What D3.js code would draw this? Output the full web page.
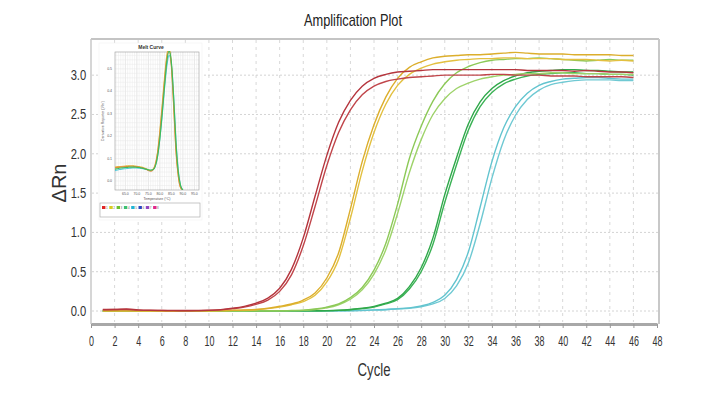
<!DOCTYPE html>
<html><head><meta charset="utf-8">
<script src="https://cdn.jsdelivr.net/npm/d3@7"></script>
<style>
html,body{margin:0;padding:0;background:#fff;}
text{font-family:"Liberation Sans",Arial,sans-serif;}
</style></head>
<body><svg id="c" width="707" height="397"></svg>
<script>
// ---------- DATA ----------
const cycles = [1,2,3,4,5,6,7,8,9,10,11,12,13,14,15,16,17,18,19,20,21,22,23,24,25,26,27,28,29,30,31,32,33,34,35,36,37,38,39,40,41,42,43,44,45,46];
const red1 = [0.02,0.02,0.025,0.015,0.01,0.008,0.006,0.006,0.007,0.01,0.018,0.035,0.06,0.10,0.165,0.29,0.53,0.93,1.46,1.98,2.40,2.68,2.86,2.96,3.01,3.04,3.05,3.06,3.07,3.07,3.07,3.07,3.07,3.07,3.07,3.07,3.06,3.06,3.06,3.06,3.05,3.06,3.05,3.04,3.04,3.03];
const red2 = [0.015,0.02,0.02,0.012,0.008,0.006,0.005,0.004,0.005,0.008,0.015,0.03,0.05,0.085,0.14,0.25,0.46,0.83,1.33,1.85,2.27,2.56,2.75,2.86,2.92,2.95,2.97,2.98,2.99,3.00,3.00,3.00,3.00,3.01,3.01,3.00,3.00,3.00,2.99,2.99,2.99,2.98,2.98,2.98,2.98,2.97];
const yellow1 = [0.003,0.003,0.002,0.002,0.002,0.001,0.001,0.002,0.003,0.004,0.006,0.009,0.013,0.02,0.035,0.06,0.09,0.14,0.23,0.42,0.74,1.30,1.90,2.37,2.72,2.96,3.10,3.17,3.22,3.24,3.25,3.26,3.26,3.27,3.28,3.29,3.28,3.27,3.27,3.27,3.26,3.26,3.26,3.26,3.25,3.25];
const yellow2 = [0.002,0.002,0.002,0.001,0.001,0.001,0.001,0.002,0.002,0.003,0.005,0.008,0.011,0.017,0.03,0.05,0.08,0.12,0.20,0.37,0.66,1.18,1.78,2.27,2.63,2.87,3.01,3.09,3.14,3.17,3.19,3.20,3.21,3.21,3.22,3.22,3.21,3.21,3.21,3.20,3.20,3.20,3.19,3.18,3.19,3.18];
const lgreen1 = [0.001,0.001,0.001,0.001,0.001,0.001,0.001,0.001,0.001,0.001,0.001,0.001,0.002,0.002,0.003,0.004,0.006,0.01,0.025,0.05,0.09,0.17,0.30,0.52,0.86,1.36,1.94,2.35,2.67,2.89,3.03,3.11,3.16,3.19,3.20,3.21,3.21,3.22,3.21,3.20,3.19,3.18,3.19,3.20,3.19,3.19];
const lgreen2 = [0.001,0.001,0.001,0.001,0.001,0.001,0.001,0.001,0.001,0.001,0.001,0.001,0.001,0.002,0.002,0.003,0.005,0.008,0.02,0.04,0.08,0.15,0.27,0.47,0.78,1.24,1.76,2.18,2.50,2.70,2.83,2.90,2.95,2.98,3.00,3.01,3.02,3.02,3.03,3.03,3.02,3.02,3.02,3.01,3.01,3.01];
const green1 = [0.001,0.001,0.001,0.001,0.001,0.001,0.001,0.001,0.001,0.001,0.001,0.001,0.001,0.001,0.002,0.002,0.002,0.003,0.004,0.005,0.01,0.02,0.035,0.06,0.10,0.16,0.31,0.55,0.93,1.48,1.95,2.38,2.66,2.83,2.93,2.99,3.03,3.05,3.06,3.07,3.07,3.06,3.06,3.05,3.04,3.04];
const green2 = [0.001,0.001,0.001,0.001,0.001,0.001,0.001,0.001,0.001,0.001,0.001,0.001,0.001,0.001,0.001,0.002,0.002,0.003,0.003,0.004,0.008,0.017,0.03,0.05,0.09,0.145,0.28,0.50,0.85,1.38,1.86,2.30,2.60,2.78,2.89,2.95,2.99,3.01,3.02,3.03,3.03,3.02,3.02,3.01,3.01,3.00];
const cyan1 = [0.001,0.001,0.001,0.001,0.001,0.001,0.001,0.001,0.001,0.001,0.001,0.001,0.001,0.001,0.001,0.002,0.002,0.002,0.003,0.003,0.004,0.005,0.008,0.015,0.02,0.03,0.04,0.065,0.11,0.20,0.40,0.75,1.32,1.90,2.33,2.60,2.77,2.87,2.92,2.95,2.96,2.97,2.97,2.96,2.95,2.95];
const cyan2 = [0.001,0.001,0.001,0.001,0.001,0.001,0.001,0.001,0.001,0.001,0.001,0.001,0.001,0.001,0.001,0.001,0.002,0.002,0.002,0.003,0.003,0.004,0.007,0.012,0.017,0.025,0.035,0.055,0.09,0.16,0.32,0.61,1.11,1.69,2.17,2.49,2.69,2.81,2.88,2.91,2.93,2.94,2.94,2.94,2.93,2.93];

const xTicks = [0,2,4,6,8,10,12,14,16,18,20,22,24,26,28,30,32,34,36,38,40,42,44,46,48];
const yTicks = [0.0,0.5,1.0,1.5,2.0,2.5,3.0];

// melt curve inset
const meltTemps = [60,61,62,63,64,65,66,67,68,69,70,71,72,73,74,75,76,77,78,79,80,81,82,83,84,85,86,87,88,89,90];
const meltOrange = [0.058,0.060,0.061,0.062,0.063,0.064,0.065,0.066,0.066,0.065,0.064,0.062,0.060,0.057,0.053,0.047,0.044,0.050,0.072,0.125,0.215,0.325,0.445,0.545,0.585,0.51,0.33,0.13,0.02,-0.03,-0.04];
const meltYellow = [0.062,0.063,0.064,0.065,0.066,0.067,0.068,0.068,0.068,0.067,0.066,0.064,0.062,0.059,0.055,0.050,0.047,0.052,0.075,0.13,0.225,0.34,0.46,0.56,0.595,0.52,0.34,0.14,0.025,-0.03,-0.04];
const meltGreen = [0.052,0.054,0.056,0.058,0.059,0.060,0.061,0.062,0.062,0.062,0.061,0.060,0.058,0.056,0.053,0.050,0.048,0.050,0.065,0.11,0.19,0.30,0.42,0.53,0.58,0.53,0.37,0.17,0.04,-0.02,-0.04];
const meltCyan = [0.045,0.048,0.050,0.052,0.054,0.055,0.056,0.057,0.058,0.058,0.058,0.057,0.056,0.054,0.052,0.050,0.049,0.052,0.066,0.11,0.19,0.29,0.41,0.51,0.56,0.52,0.38,0.18,0.05,-0.02,-0.04];
const meltXTicks = [65,70,75,80,85,90,95];
const meltYTicks = [0.0,0.1,0.2,0.3,0.4,0.5];
const legendColors = ["#e02424","#d8cc20","#6cc030","#3cc070","#20b4d4","#2a48c0","#9448c0","#e0288c"];
const legendLabels = ["1","2","3","4","5","6","7","8"];

// ---------- DRAW ----------
const svg = d3.select("#c");
svg.append("rect").attr("width",707).attr("height",397).attr("fill","#fff");

const x = d3.scaleLinear().domain([0,48]).range([91,657]);
const y = d3.scaleLinear().domain([-0.165,3.46]).range([324,39]);

// grid
const g = svg.append("g");
g.selectAll("line.vg").data(xTicks.filter(d=>d>0&&d<48)).join("line")
 .attr("x1",d=>x(d)).attr("x2",d=>x(d)).attr("y1",40).attr("y2",322)
 .attr("stroke","#d8d8d8").attr("stroke-width",1).attr("stroke-dasharray","3,4");
g.selectAll("line.hg").data(yTicks).join("line")
 .attr("x1",92).attr("x2",658).attr("y1",d=>y(d)).attr("y2",d=>y(d))
 .attr("stroke","#d4d4d4").attr("stroke-width",1).attr("stroke-dasharray","2,2");

// frame
svg.append("line").attr("x1",91).attr("x2",659).attr("y1",39).attr("y2",39).attr("stroke","#c4c4c4").attr("stroke-width",2);
svg.append("line").attr("x1",91).attr("x2",91).attr("y1",39).attr("y2",324).attr("stroke","#c8c8c8").attr("stroke-width",1.5);
svg.append("line").attr("x1",659).attr("x2",659).attr("y1",39).attr("y2",324).attr("stroke","#c8c8c8").attr("stroke-width",2);

// x axis
const xAxis = d3.axisBottom(x).tickValues(xTicks).tickSize(4).tickSizeOuter(0).tickFormat(d3.format("d"));
const xa = svg.append("g").attr("transform","translate(0,324)").call(xAxis);
xa.select(".domain").attr("stroke","#a8a8a8").attr("stroke-width",3);
xa.selectAll(".tick line").attr("stroke","#999");
xa.selectAll(".tick text").attr("font-size",14).attr("fill","#333").attr("dy","1.05em")
  .attr("transform","scale(0.64,1)").style("font-family",'"Liberation Sans",Arial,sans-serif');

// y axis labels
const yAxis = d3.axisLeft(y).tickValues(yTicks).tickSize(0).tickFormat(d3.format(".1f"));
const ya = svg.append("g").attr("transform","translate(91,0)").call(yAxis);
ya.select(".domain").remove();
ya.selectAll(".tick text").attr("font-size",14).attr("fill","#333").attr("x",-6)
  .attr("transform","scale(0.8,1)").style("font-family",'"Liberation Sans",Arial,sans-serif');

// curves
const line = d3.line().x((d,i)=>x(cycles[i])).y(d=>y(d)).curve(d3.curveMonotoneX);
const series = [
  {v:cyan2,c:"#6fc9d3"},{v:cyan1,c:"#62c4cf"},
  {v:green2,c:"#3bb255"},{v:green1,c:"#2fa84a"},
  {v:lgreen2,c:"#9ed36a"},{v:lgreen1,c:"#8cc957"},
  {v:yellow2,c:"#e3c040"},{v:yellow1,c:"#dcae2c"},
  {v:red2,c:"#c0454a"},{v:red1,c:"#b5353d"}
];
svg.append("g").selectAll("path").data(series).join("path")
  .attr("d",d=>line(d.v)).attr("fill","none").attr("stroke",d=>d.c).attr("stroke-width",1.4);

// titles
svg.append("text").attr("x",353).attr("y",26).attr("text-anchor","middle").attr("font-size",17).attr("fill","#222")
  .attr("textLength",98).attr("lengthAdjust","spacingAndGlyphs").text("Amplification Plot");
svg.append("text").attr("x",374).attr("y",376).attr("text-anchor","middle").attr("font-size",17.5).attr("fill","#333")
  .attr("textLength",33).attr("lengthAdjust","spacingAndGlyphs").text("Cycle");
svg.append("text").attr("transform","translate(66,183) rotate(-90)").attr("text-anchor","middle").attr("font-size",20)
  .attr("fill","#333").attr("textLength",39).attr("lengthAdjust","spacingAndGlyphs").text("ΔRn");

// ---------- INSET ----------
const ins = svg.append("g");
ins.append("rect").attr("x",99).attr("y",43).attr("width",103).attr("height",177).attr("fill","#fff").attr("stroke","#eee").attr("stroke-width",0.5);
const xm = d3.scaleLinear().domain([60.5,97]).range([115,199]);
const ym = d3.scaleLinear().domain([-0.04,0.575]).range([190,52]);
const fineX = meltTemps.concat([91,92,93,94,95,96]);
ins.selectAll("line.fx").data(fineX.filter(t=>t>60.5)).join("line")
  .attr("x1",d=>xm(d)).attr("x2",d=>xm(d)).attr("y1",52).attr("y2",190)
  .attr("stroke",d=>d%5===0?"#cfcfcf":"#e8e8e8").attr("stroke-width",0.5);
const fineY = [-0.02,0.0,0.02,0.04,0.06,0.08,0.1,0.12,0.14,0.16,0.18,0.2,0.22,0.24,0.26,0.28,0.3,0.32,0.34,0.36,0.38,0.4,0.42,0.44,0.46,0.48,0.5,0.52,0.54,0.56];
ins.selectAll("line.fy").data(fineY).join("line")
  .attr("x1",115).attr("x2",199).attr("y1",d=>ym(d)).attr("y2",d=>ym(d))
  .attr("stroke","#e8e8e8").attr("stroke-width",0.5);
ins.append("rect").attr("x",115).attr("y",52).attr("width",84).attr("height",138).attr("fill","none").attr("stroke","#9a9a9a").attr("stroke-width",0.6);
ins.append("clipPath").attr("id","mclip").append("rect").attr("x",115).attr("y",51).attr("width",84).attr("height",139);
const mline = d3.line().x((d,i)=>xm(meltTemps[i])).y(d=>ym(d)).curve(d3.curveMonotoneX);
const mser = [{v:meltCyan,c:"#54c8d8"},{v:meltYellow,c:"#e0c040"},{v:meltOrange,c:"#e08a40"},{v:meltGreen,c:"#3cbc5a"}];
ins.append("g").attr("clip-path","url(#mclip)").selectAll("path").data(mser).join("path")
  .attr("d",d=>mline(d.v)).attr("fill","none").attr("stroke",d=>d.c).attr("stroke-width",1.1);
ins.selectAll("text.mx").data(meltXTicks).join("text")
  .attr("x",d=>xm(d)).attr("y",195).attr("text-anchor","middle").attr("font-size",3.5).attr("fill","#555").text(d=>d.toFixed(1));
ins.selectAll("text.my").data(meltYTicks).join("text")
  .attr("x",112).attr("y",d=>ym(d)+1).attr("text-anchor","end").attr("font-size",3.5).attr("fill","#555").text(d=>d.toFixed(1));
ins.append("text").attr("x",151).attr("y",49).attr("text-anchor","middle").attr("font-size",5).attr("font-weight","bold").attr("fill","#333").text("Melt Curve");
ins.append("text").attr("x",157).attr("y",200).attr("text-anchor","middle").attr("font-size",3.5).attr("fill","#555").text("Temperature (°C)");
ins.append("text").attr("transform","translate(104,121) rotate(-90)").attr("text-anchor","middle").attr("font-size",3.5).attr("fill","#555").text("Derivative Reporter (-Rn')");
ins.append("rect").attr("x",100).attr("y",203).attr("width",100).attr("height",14).attr("fill","#fff").attr("stroke","#b0b0b0").attr("stroke-width",0.7);
const lg = ins.selectAll("g.lg").data(legendColors).join("g").attr("transform",(d,i)=>`translate(${102+i*7.3},206)`);
lg.append("rect").attr("width",3.4).attr("height",3).attr("fill",d=>d);
lg.append("text").attr("x",4).attr("y",3).attr("font-size",3).attr("fill","#666").text((d,i)=>legendLabels[i]);
</script></body></html>
